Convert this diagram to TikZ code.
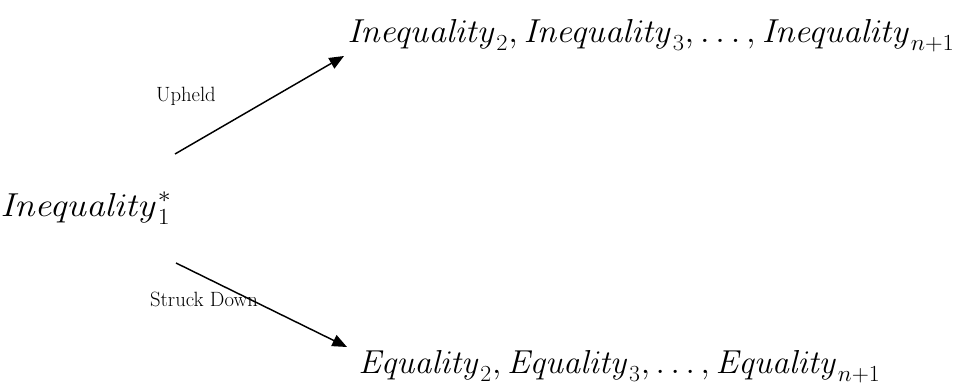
\documentclass[tikz,border=0pt]{standalone}
\usetikzlibrary{arrows.meta}
\begin{document}
\begin{tikzpicture}[x=0.75pt,y=-0.75pt,
  mathtext/.style={inner sep=0pt,font=\fontsize{23}{27}\selectfont},
  lbl/.style={inner sep=0pt,font=\fontsize{15.5}{18}\selectfont},
  conn/.style={line width=1.1pt,-{Triangle[length=11pt,width=9pt]}}]
\useasboundingbox (0,0) rectangle (957,388);
\node[mathtext,anchor=west] (src) at (0,208) {\scalebox{1.12}[1]{$\mathit{Inequality}_1^{*}$}};
\node[mathtext,anchor=west] (top) at (347,36) {\scalebox{1.06}[1]{$\mathit{Inequality}_2,\mathit{Inequality}_3,\ldots,\mathit{Inequality}_{n+1}$}};
\node[mathtext,anchor=west] (bot) at (358,367) {\scalebox{1.03}[1]{$\mathit{Equality}_2,\mathit{Equality}_3,\ldots,\mathit{Equality}_{n+1}$}};
\node[lbl] (up) at (186,96) {Upheld};
\node[lbl] (sd) at (204,299) {Struck Down};
\coordinate (a1s) at (175,154);
\coordinate (a1e) at (344,56);
\coordinate (a2s) at (176,263);
\coordinate (a2e) at (347,347);
\draw[conn] (a1s) -- (a1e);
\draw[conn] (a2s) -- (a2e);
\end{tikzpicture}
\end{document}
